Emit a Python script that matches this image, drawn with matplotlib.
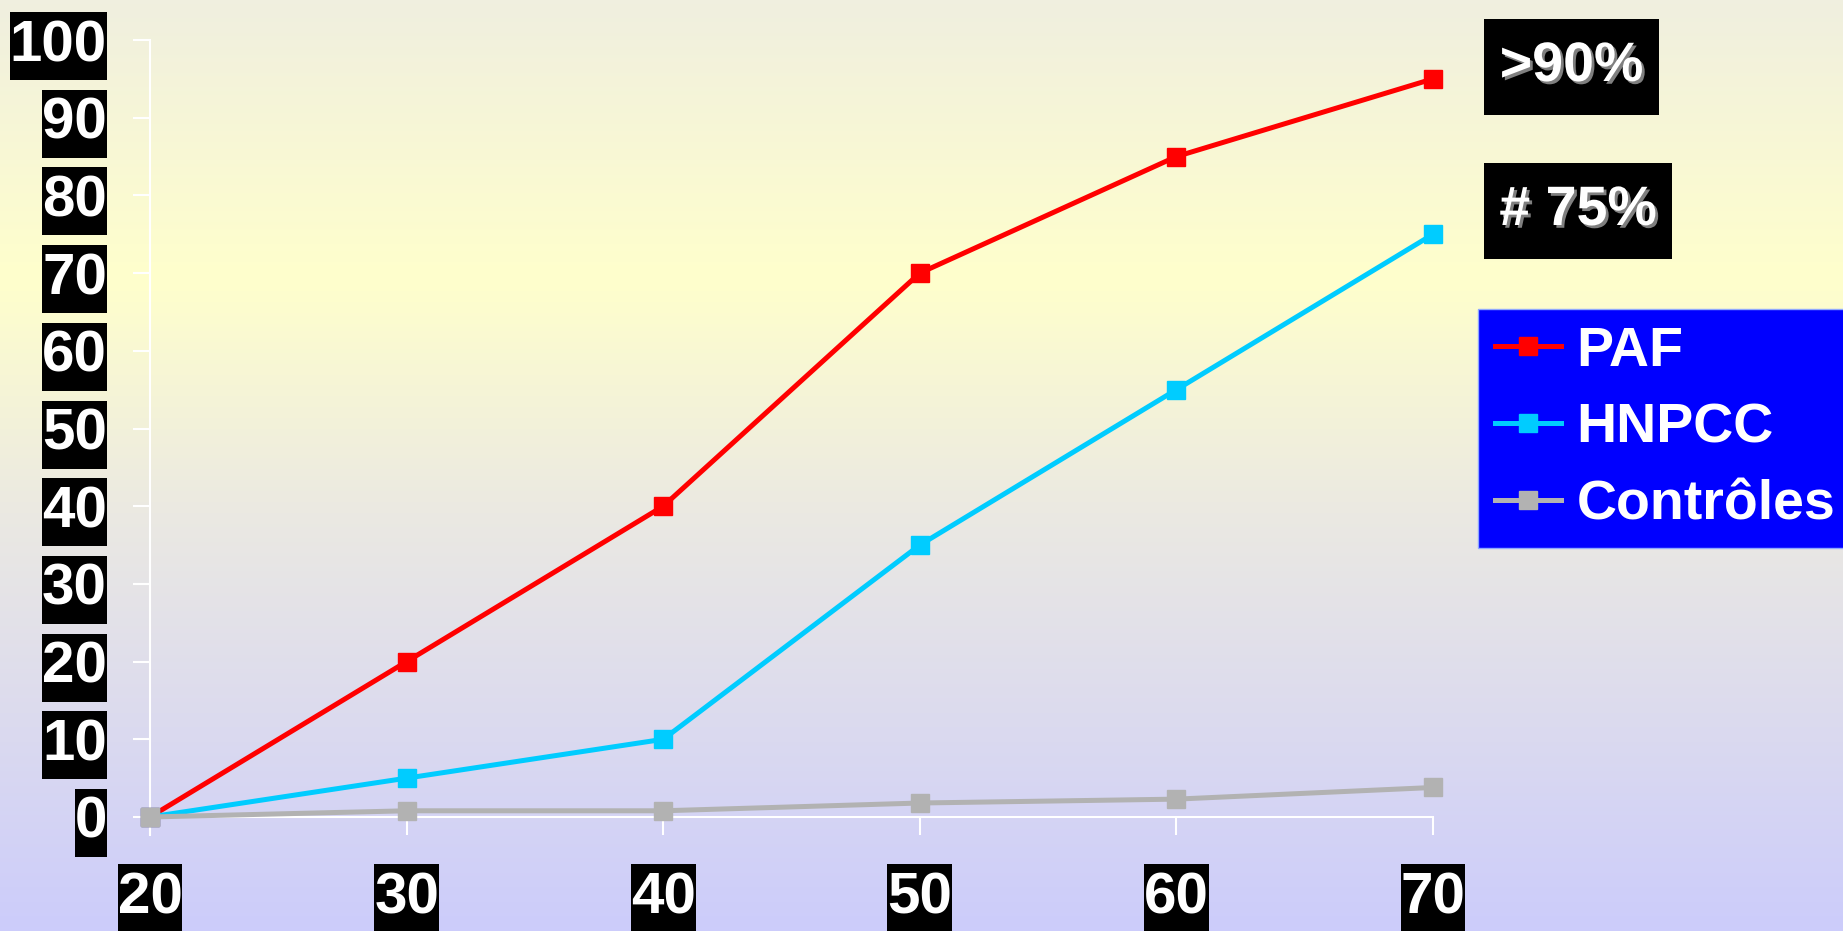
import numpy as np
import matplotlib
matplotlib.use('Agg')
import matplotlib.pyplot as plt
from matplotlib import patheffects
from matplotlib.colors import LinearSegmentedColormap
from matplotlib.lines import Line2D
from matplotlib.patches import Rectangle
from matplotlib.path import Path

ages      = [20, 30, 40, 50, 60, 70]
paf       = [0, 20, 40, 70, 85, 95]
hnpcc     = [0, 5, 10, 35, 55, 75]
controles = [0, 0.8, 0.8, 1.8, 2.3, 3.8]
yticks    = list(range(0, 101, 10))
names     = ['PAF', 'HNPCC', 'Contrôles']
colors    = ['#ff0000', '#00ccff', '#b2b2b2']
notes     = ['>90%', '# 75%']

W, H = 1843, 931
FONT = ['Liberation Sans', 'DejaVu Sans']
plt.rcParams['font.family'] = FONT


def tall_box(x0, y0, width, height, mutation_size):
  # black label box, padded only above and below the text
  dy = 0.12 * mutation_size
  return Path.unit_rectangle().transformed(
    matplotlib.transforms.Affine2D().scale(width, height + 2 * dy).translate(x0, y0 - dy))


fig = plt.figure(figsize=(W / 100, H / 100), dpi=100)

# background gradient, beige at top, yellow, then lavender at the bottom
bg = fig.add_axes([0, 0, 1, 1], zorder=-10)
cmap = LinearSegmentedColormap.from_list(
  'bg', [(0.0, '#f0efdf'), (0.3, '#ffffcc'), (0.55, '#ebe9e2'), (1.0, '#ccccfb')])
bg.imshow(np.linspace(0, 1, 256).reshape(-1, 1), aspect='auto', cmap=cmap,
          extent=(0, 1, 0, 1))
bg.set_axis_off()

ax = fig.add_axes([150 / W, 1 - 817 / H, (1433 - 150) / W, (817 - 40) / H])
ax.set_facecolor('none')

for ys, c, n in zip([paf, hnpcc, controles], colors, names):
  ax.plot(ages, ys, color=c, lw=3.6, marker='s', ms=13.5, mec=c, label=n,
          clip_on=False, zorder=3)

ax.set_xlim(20, 70)
ax.set_ylim(0, 100)
ax.set_xticks(ages)
ax.set_yticks(yticks)

for s in ['top', 'right']:
  ax.spines[s].set_visible(False)
for s in ['left', 'bottom']:
  ax.spines[s].set_color('white')
  ax.spines[s].set_linewidth(1.5)
ax.spines['left'].set_bounds(-2.3, 100)

ax.tick_params(axis='y', direction='out', length=12, width=1.5, color='white',
               pad=19, labelsize=42, labelcolor='white')
ax.tick_params(axis='x', direction='out', length=13, width=1.5, color='white',
               pad=26, labelsize=42, labelcolor='white')

for lab in ax.get_xticklabels() + ax.get_yticklabels():
  lab.set_fontweight('bold')
  lab.set_bbox(dict(facecolor='black', edgecolor='none', boxstyle=tall_box))

handles = [Line2D([], [], color=c, lw=3.6, marker='s', ms=13.5, mec=c) for c in colors]
leg = fig.legend(handles, names, loc='upper left',
                 bbox_to_anchor=(1478 / W, 1 - 309 / H), bbox_transform=fig.transFigure,
                 fancybox=False, framealpha=1, facecolor='#0000ff', edgecolor='#8fa8ff',
                 borderaxespad=0, borderpad=0.3, handlelength=1.2, handletextpad=0.27,
                 labelspacing=0.45, prop=dict(family=FONT, weight='bold', size=40))
for t in leg.get_texts():
  t.set_color('white')

# percentage callouts on the right
shadow = [patheffects.withSimplePatchShadow(offset=(2, -2), shadow_rgbFace='#7f7f7f', alpha=1)]
boxes = [(1484, 19, 1659, 115), (1484, 163, 1672, 259)]
for note, (x0, y0, x1, y1) in zip(notes, boxes):
  fig.patches.append(Rectangle((x0 / W, 1 - y1 / H), (x1 - x0) / W, (y1 - y0) / H,
                               transform=fig.transFigure, facecolor='black',
                               edgecolor='none', zorder=5))
  fig.text((x0 + x1) / 2 / W, 1 - (y0 + y1) / 2 / H, note, ha='center', va='center',
           color='white', fontsize=40, fontweight='bold',
           path_effects=shadow, zorder=6)

plt.savefig('out.png', dpi=100)
